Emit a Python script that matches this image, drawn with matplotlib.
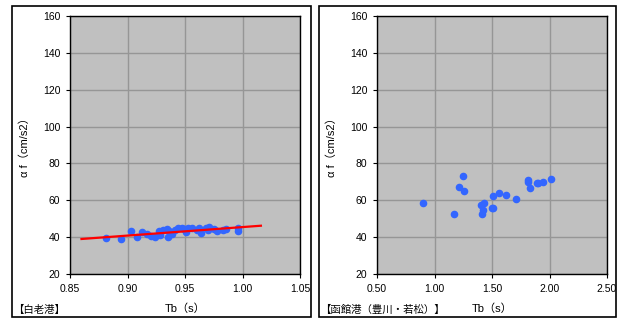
import matplotlib
matplotlib.use("Agg")
import matplotlib.pyplot as plt
from matplotlib.patches import Rectangle

plt.rcParams['font.family'] = ['Liberation Sans', 'Noto Sans CJK JP', 'DejaVu Sans']

# 白老港 データ
shiraoi_tb = [0.881, 0.894, 0.903, 0.908, 0.913, 0.917, 0.920, 0.924, 0.927, 0.928,
              0.931, 0.934, 0.935, 0.936, 0.939, 0.941, 0.944, 0.947, 0.949, 0.951,
              0.953, 0.956, 0.960, 0.962, 0.964, 0.968, 0.971, 0.970, 0.975, 0.978,
              0.983, 0.986, 0.996, 0.996]
shiraoi_af = [39.7, 38.8, 43.1, 40.1, 42.9, 41.5, 40.6, 40.1, 43.5, 41.1,
              43.8, 44.2, 40.2, 43.5, 41.5, 43.8, 44.7, 44.7, 44.2, 42.8,
              44.7, 45.1, 43.8, 45.1, 42.4, 45.1, 45.5, 44.0, 44.2, 43.1,
              44.0, 44.6, 44.7, 43.3]
# 近似直線
trend_tb = [0.860, 1.016]
trend_af = [39.0, 46.2]

# 函館港 データ
hakodate_tb = [0.90, 1.17, 1.21, 1.25, 1.26, 1.40, 1.42, 1.41, 1.43, 1.50,
               1.51, 1.51, 1.56, 1.62, 1.71, 1.81, 1.81, 1.83, 1.89, 1.90,
               1.94, 2.01]
hakodate_af = [58.3, 52.7, 67.0, 73.1, 65.3, 57.2, 55.0, 52.7, 58.3, 55.8,
               55.6, 62.3, 63.9, 63.0, 60.8, 70.8, 69.9, 66.4, 69.3, 69.3,
               70.0, 71.5]

fig = plt.figure(figsize=(6.23, 3.2), dpi=100)

# 外枠
fig.patches.append(Rectangle((12 / 623, 3 / 320), 299 / 623, 311 / 320,
                             transform=fig.transFigure, fill=False,
                             edgecolor='black', linewidth=1.2))
fig.patches.append(Rectangle((319 / 623, 3 / 320), 297 / 623, 311 / 320,
                             transform=fig.transFigure, fill=False,
                             edgecolor='black', linewidth=1.2))

ax1 = fig.add_axes([70 / 623, 46 / 320, 230 / 623, 258 / 320])
ax2 = fig.add_axes([377 / 623, 46 / 320, 230 / 623, 258 / 320])

ax1.scatter(shiraoi_tb, shiraoi_af, s=20, color='#3366FF', zorder=3)
ax1.plot(trend_tb, trend_af, color='red', linewidth=1.6, zorder=4)
ax1.set_xlim(0.85, 1.05)
ax1.set_xticks([0.85, 0.90, 0.95, 1.00, 1.05])
ax1.set_xticklabels(['0.85', '0.90', '0.95', '1.00', '1.05'])

ax2.scatter(hakodate_tb, hakodate_af, s=20, color='#3366FF', zorder=3)
ax2.set_xlim(0.5, 2.5)
ax2.set_xticks([0.5, 1.0, 1.5, 2.0, 2.5])
ax2.set_xticklabels(['0.50', '1.00', '1.50', '2.00', '2.50'])

for ax in [ax1, ax2]:
    ax.set_facecolor('#C0C0C0')
    ax.set_ylim(20, 160)
    ax.set_yticks(range(20, 161, 20))
    ax.grid(True, color='#969696', linewidth=1.0)
    ax.set_axisbelow(True)
    ax.tick_params(labelsize=7.5, length=3, width=0.8, pad=4)
    for sp in ax.spines.values():
        sp.set_linewidth(1.0)
    ax.set_xlabel('Tb（s）', fontsize=8, labelpad=7)
    ax.set_ylabel('α f（cm/s2）', fontsize=8, labelpad=9)

fig.text(13 / 623, 1 - 310 / 320, '【白老港】', fontsize=7.5, va='center', ha='left')
fig.text(320 / 623, 1 - 310 / 320, '【函館港（豊川・若松）】', fontsize=7.5,
         va='center', ha='left')

fig.savefig('out.png', dpi=100)
